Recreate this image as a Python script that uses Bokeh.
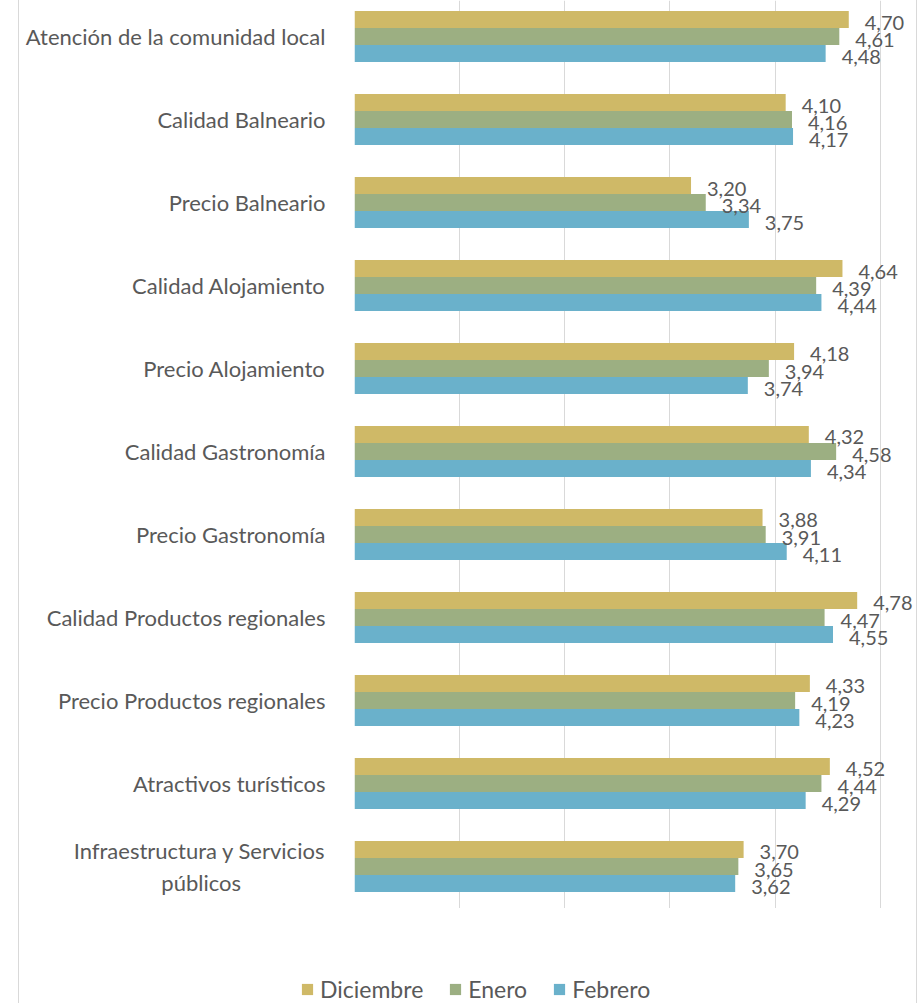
import textwrap
from bokeh.plotting import figure
from bokeh.layouts import column
from bokeh.models import (ColumnDataSource, Range1d, FixedTicker, LabelSet, Grid)
from bokeh.transform import dodge
from bokeh.core.properties import value
from bokeh.embed import file_html
from bokeh.resources import INLINE

categories = [
    "Atención de la comunidad local",
    "Calidad Balneario",
    "Precio Balneario",
    "Calidad Alojamiento",
    "Precio Alojamiento",
    "Calidad Gastronomía",
    "Precio Gastronomía",
    "Calidad Productos regionales",
    "Precio Productos regionales",
    "Atractivos turísticos",
    "Infraestructura y Servicios públicos",
]
series_names = ["Diciembre", "Enero", "Febrero"]
diciembre = [4.70, 4.10, 3.20, 4.64, 4.18, 4.32, 3.88, 4.78, 4.33, 4.52, 3.70]
enero = [4.61, 4.16, 3.34, 4.39, 3.94, 4.58, 3.91, 4.47, 4.19, 4.44, 3.65]
febrero = [4.48, 4.17, 3.75, 4.44, 3.74, 4.34, 4.11, 4.55, 4.23, 4.29, 3.62]
colors = ["#CFB967", "#9CAF82", "#6AB1CB"]
grid_ticks = [0, 1, 2, 3, 4, 5]

FONT = "Lato"
TXT = "#595959"
BOX = {"margin-left": "18px",
       "border-left": "1px solid #d9d9d9",
       "border-right": "1px solid #d9d9d9"}

pos = list(range(len(categories)))


def fmt(v):
    return f"{v:.2f}".replace(".", ",")


data = dict(pos=pos)
cols = []
for name, vals in zip(series_names, [diciembre, enero, febrero]):
    key = name.lower()
    data[key] = vals
    data[key + "_t"] = [fmt(v) for v in vals]
    cols.append(key)
src = ColumnDataSource(data)

# ---- main chart ----
p = figure(frame_width=562, frame_height=908,
           x_range=Range1d(0, 5.363), y_range=Range1d(10.506, -0.434),
           x_axis_location=None, output_backend="svg", toolbar_location=None,
           min_border_left=335, min_border_right=0, min_border_top=0,
           min_border_bottom=0)
p.styles = dict(BOX)
p.outline_line_color = None
p.background_fill_color = "white"
p.border_fill_color = "white"
p.ygrid.visible = False
for g in p.xgrid:
    g.visible = False
p.add_layout(Grid(dimension=0, ticker=FixedTicker(ticks=grid_ticks),
                  grid_line_color="#d9d9d9", grid_line_width=1))

bar_h = 0.205
offsets = [-bar_h, 0, bar_h]
for name, key, off, color in zip(series_names, cols, offsets, colors):
    p.hbar(y=dodge("pos", off), left=0, right=key, height=bar_h, source=src,
           fill_color=color, line_color=None)
    p.add_layout(LabelSet(x=key, y=dodge("pos", off), text=key + "_t", source=src,
                          x_offset=16, y_offset=-3, text_font=value(FONT),
                          text_font_size="20px", text_color=TXT,
                          text_baseline="middle", text_align="left"))


def wrap_label(c):
    lines = textwrap.wrap(c, 30)
    if len(lines) == 2:
        pad = max(0, (len(lines[0]) - len(lines[1])))
        lines[1] = lines[1] + "\u00a0" * int(pad * 0.8)
    return "\n".join(lines)


yax = p.yaxis[0]
yax.ticker = FixedTicker(ticks=pos)
yax.major_label_overrides = {i: wrap_label(c) for i, c in enumerate(categories)}
yax.axis_line_color = None
yax.major_tick_line_color = None
yax.minor_tick_line_color = None
yax.major_label_standoff = 23
yax.major_label_text_font = FONT
yax.major_label_text_font_size = "22px"
yax.major_label_text_color = TXT

# ---- legend strip (same series, bars fall outside its view) ----
pl = figure(frame_width=897, frame_height=95,
            x_range=Range1d(-2, -1), y_range=Range1d(10.506, -0.434),
            x_axis_location=None, y_axis_location=None,
            output_backend="svg", toolbar_location=None, min_border=0)
pl.styles = dict(BOX)
pl.outline_line_color = None
pl.xgrid.visible = False
pl.ygrid.visible = False
for name, key, off, color in zip(series_names, cols, offsets, colors):
    pl.hbar(y=dodge("pos", off), left=0, right=key, height=bar_h, source=src,
            fill_color=color, line_color=None, legend_label=name)

lg = pl.legend[0]
lg.orientation = "horizontal"
lg.location = (281, 0)
lg.border_line_color = None
lg.background_fill_alpha = 0
lg.padding = 0
lg.margin = 0
lg.spacing = 25
lg.glyph_width = 14
lg.glyph_height = 14
lg.label_standoff = 6
lg.label_text_font = FONT
lg.label_text_font_size = "23px"
lg.label_text_color = TXT

page = column(p, pl, spacing=0)
open("out.html", "w").write(file_html(page, INLINE))
